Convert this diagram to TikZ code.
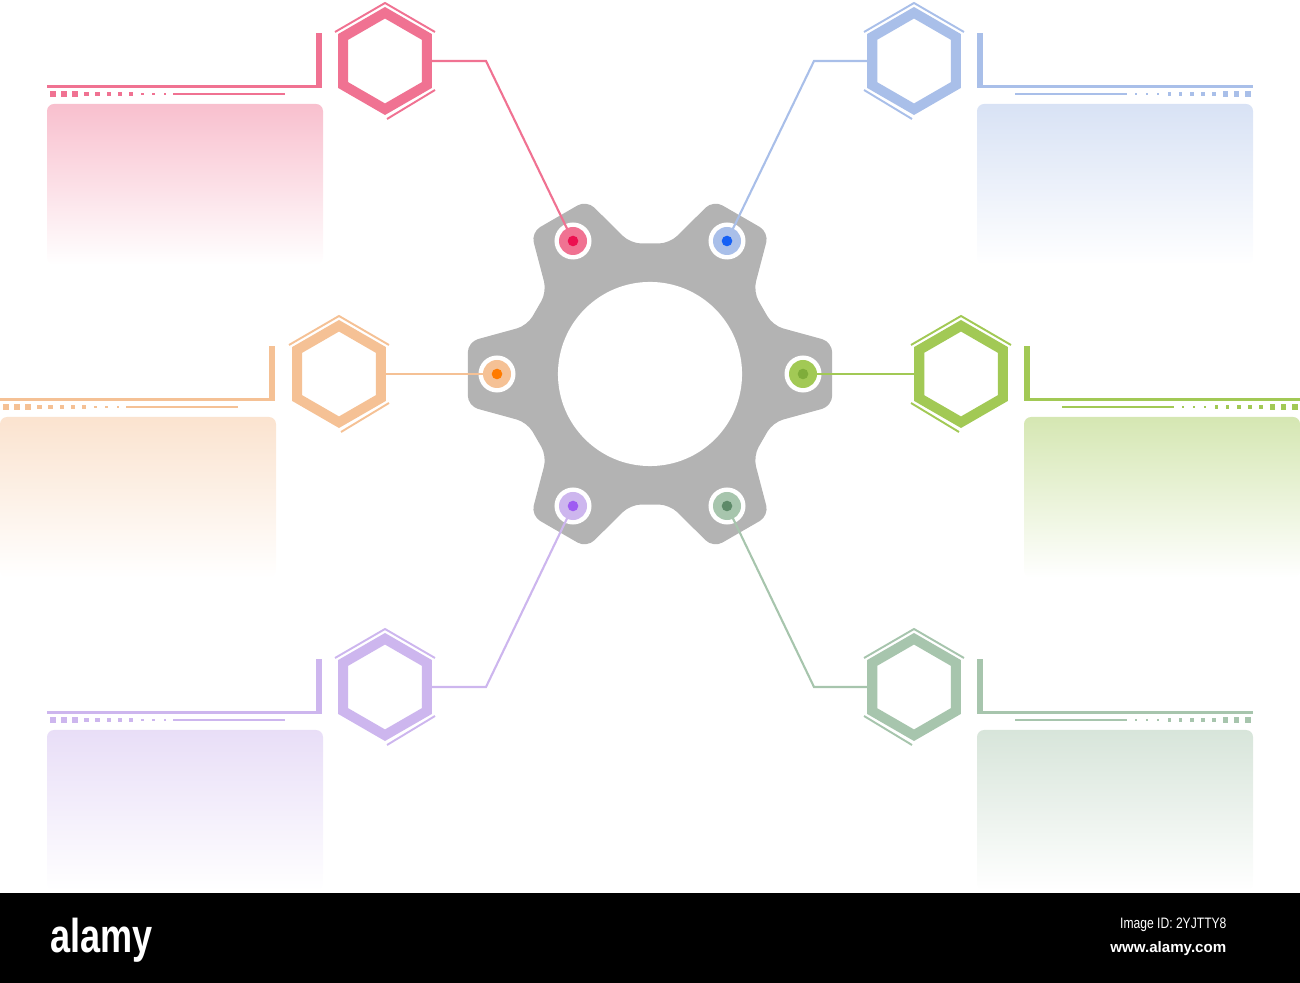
\documentclass[tikz,border=0pt]{standalone}
\usepackage{fontspec}
\setmainfont{Liberation Sans}
\usetikzlibrary{shapes.geometric,calc}

\definecolor{gearc}{HTML}{B3B3B3}
\definecolor{pinkc}{HTML}{F07292}
\definecolor{pinkd}{HTML}{EC1050}
\definecolor{bluec}{HTML}{A9BFE9}
\definecolor{blued}{HTML}{1560F5}
\definecolor{orangec}{HTML}{F5C195}
\definecolor{oranged}{HTML}{FF7B00}
\definecolor{greenc}{HTML}{A2C955}
\definecolor{greend}{HTML}{7FAD3A}
\definecolor{purplec}{HTML}{CDB6EE}
\definecolor{purpled}{HTML}{9E5CF2}
\definecolor{sagec}{HTML}{A7C5AD}
\definecolor{saged}{HTML}{5E8A69}

\tikzset{
  hexa/.style={regular polygon, regular polygon sides=6, shape border rotate=30,
    minimum size=0.964cm, inner sep=0pt, outer sep=0pt, line width=2.85pt,
    draw=#1, fill=white},
  ring/.style={circle, fill=white, minimum size=0.37cm, inner sep=0pt},
  link/.style={draw=#1, line width=0.6pt},
  edgeline/.style={draw=#1, line width=0.55pt}
}

% text panel, bracket on the right
\newcommand{\leftpanel}[3]{%
  \shade[top color=#1!45!white, bottom color=white, rounded corners=2pt]
    (#2,#3+17) rectangle (#2+276,#3+178);
  \fill[#1] (#2+269,#3-54) rectangle (#2+275,#3+1.5);
  \fill[#1] (#2,#3-1.5) rectangle (#2+275,#3+1.5);
  \foreach \i in {0,...,10} {
    \pgfmathsetmacro\sq{6-0.4*\i}
    \fill[#1] (#2+5.5+11.2*\i-\sq/2,#3+7-\sq/2) rectangle ++(\sq,\sq);
  }
  \draw[#1, line width=0.35pt] (#2+126,#3+7) -- (#2+238,#3+7);
}
% text panel, bracket on the left
\newcommand{\rightpanel}[3]{%
  \shade[top color=#1!45!white, bottom color=white, rounded corners=2pt]
    (#2,#3+17) rectangle (#2+276,#3+178);
  \fill[#1] (#2,#3-54) rectangle (#2+6,#3+1.5);
  \fill[#1] (#2,#3-1.5) rectangle (#2+276,#3+1.5);
  \foreach \i in {0,...,10} {
    \pgfmathsetmacro\sq{6-0.4*\i}
    \fill[#1] (#2+270.5-11.2*\i-\sq/2,#3+7-\sq/2) rectangle ++(\sq,\sq);
  }
  \draw[#1, line width=0.35pt] (#2+38,#3+7) -- (#2+150,#3+7);
}

\begin{document}
\begin{tikzpicture}[x=0.01cm, y=-0.01cm]
  \useasboundingbox (0,0) rectangle (1300,983);

  % panels
  \leftpanel{pinkc}{47}{87}
  \leftpanel{orangec}{0}{400}
  \leftpanel{purplec}{47}{713}
  \rightpanel{bluec}{977}{87}
  \rightpanel{greenc}{1024}{400}
  \rightpanel{sagec}{977}{713}

  % gear
  \begin{scope}[shift={(650,374)}]
    \fill[gearc, rounded corners=3pt] (-10:185)
      \foreach \a in {0,60,...,240} {
        -- (\a+10:185) -- (\a+21.5:132) -- (\a+38.5:132) -- (\a+50:185)
      }
      -- (310:185) -- (321.5:132) -- (338.5:132) -- cycle;
    \fill[white] (0,0) circle [radius=0.92cm];
  \end{scope}

  \node[ring] (dpk) at (573,241) {};
  \node[ring] (dbl) at (727,241) {};
  \node[ring] (dor) at (497,374) {};
  \node[ring] (dgr) at (803,374) {};
  \node[ring] (dpu) at (573,506) {};
  \node[ring] (dsg) at (727,506) {};

  % hexagons
  \node[hexa=pinkc] (hpk) at (385,61) {};
  \node[hexa=bluec] (hbl) at (914,61) {};
  \node[hexa=orangec] (hor) at (339,374) {};
  \node[hexa=greenc] (hgr) at (961,374) {};
  \node[hexa=purplec] (hpu) at (385,687) {};
  \node[hexa=sagec] (hsg) at (914,687) {};

  \foreach \h/\c in {hpk/pinkc, hor/orangec, hpu/purplec} {
    \draw[edgeline=\c] ($(\h)+(-50,-29)$) -- ($(\h)+(0,-58)$) -- ($(\h)+(50,-29)$);
    \draw[edgeline=\c] ($(\h)+(2,58)$) -- ($(\h)+(50,29)$);
  }
  \foreach \h/\c in {hbl/bluec, hgr/greenc, hsg/sagec} {
    \draw[edgeline=\c] ($(\h)+(-50,-29)$) -- ($(\h)+(0,-58)$) -- ($(\h)+(50,-29)$);
    \draw[edgeline=\c] ($(\h)+(-2,58)$) -- ($(\h)+(-50,29)$);
  }

  % connectors
  \coordinate (bpk) at (486,61);
  \coordinate (bbl) at (814,61);
  \coordinate (bpu) at (486,687);
  \coordinate (bsg) at (814,687);
  \draw[link=pinkc] (dpk.center) -- (bpk) -- (hpk.east);
  \draw[link=bluec] (dbl.center) -- (bbl) -- (hbl.west);
  \draw[link=orangec] (dor.center) -- (hor.east);
  \draw[link=greenc] (dgr.center) -- (hgr.west);
  \draw[link=purplec] (dpu.center) -- (bpu) -- (hpu.east);
  \draw[link=sagec] (dsg.center) -- (bsg) -- (hsg.west);

  \foreach \d/\c/\k in {dpk/pinkc/pinkd, dbl/bluec/blued, dor/orangec/oranged,
                        dgr/greenc/greend, dpu/purplec/purpled, dsg/sagec/saged} {
    \fill[\c] (\d) circle [radius=1.4mm];
    \fill[\k] (\d) circle [radius=0.53mm];
  }

  % footer band
  \fill[black] (0,893) rectangle (1300,983);
  \node[anchor=west, text=white, inner sep=0pt, xscale=0.76,
        font=\bfseries\fontsize{13.5}{14}\selectfont] (logo) at (50,940) {alamy};
  \node[anchor=east, text=white, inner sep=0pt, xscale=0.8,
        font=\fontsize{4.3}{5}\selectfont] (imgid) at (1227,925) {Image ID: 2YJTTY8};
  \node[anchor=east, text=white, inner sep=0pt,
        font=\bfseries\fontsize{4.3}{5}\selectfont] (web) at (1227,949) {www.alamy.com};
\end{tikzpicture}
\end{document}
